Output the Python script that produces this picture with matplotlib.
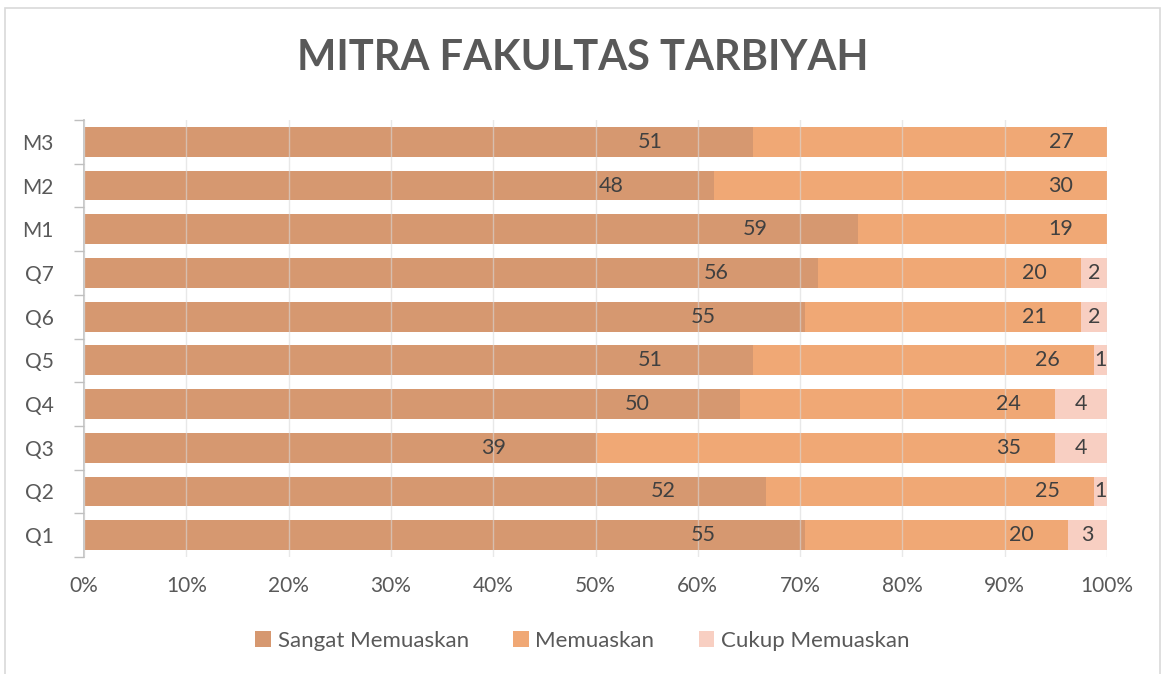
import matplotlib
matplotlib.use("Agg")
import matplotlib.pyplot as plt
from matplotlib.patches import Rectangle
import numpy as np

categories = ["Q1", "Q2", "Q3", "Q4", "Q5", "Q6", "Q7", "M1", "M2", "M3"]
sangat = [55, 52, 39, 50, 51, 55, 56, 59, 48, 51]
memuaskan = [20, 25, 35, 24, 26, 21, 20, 19, 30, 27]
cukup = [3, 1, 4, 4, 1, 2, 2, 0, 0, 0]
series_names = ["Sangat Memuaskan", "Memuaskan", "Cukup Memuaskan"]
colors = ["#D49368", "#F0A46E", "#F8CDBF"]
title = "MITRA FAKULTAS TARBIYAH"

plt.rcParams['font.family'] = ['Lato', 'DejaVu Sans']

fig = plt.figure(figsize=(11.65, 6.74), dpi=100)
fig.patches.append(Rectangle((5/1165, -0.01), 1155/1165, 1 - 8/674 + 0.01,
                             transform=fig.transFigure, fill=False,
                             edgecolor="#d9d9d9", lw=1.2))
ax = fig.add_axes([84/1165, 1 - 557/674, 1023/1165, (557 - 120)/674])

data = np.array([sangat, memuaskan, cukup], dtype=float)
totals = data.sum(axis=0)
frac = data / totals
y = np.arange(len(categories))
left = np.zeros(len(categories))
h = 0.68
for i in range(3):
    ax.barh(y, frac[i], left=left, height=h, color=colors[i], label=series_names[i],
            zorder=2, alpha=0.95)
    ends = left + frac[i]
    for j in range(len(categories)):
        v = data[i, j]
        if v == 0:
            continue
        if i == 0:
            xpos = ends[j] - 0.1
        elif i == 1:
            xpos = ends[j] - 0.045
        else:
            xpos = left[j] + frac[i, j] / 2
        ax.text(xpos, y[j], f"{int(v)}", ha="center", va="center",
                fontsize=15.5, color="#404040", zorder=4)
    left = ends

ax.set_xlim(0, 1)
ax.set_ylim(-0.5, len(categories) - 0.5)
ax.set_xticks(np.linspace(0, 1, 11))
ax.set_xticklabels([f"{int(round(t*100))}%" for t in np.linspace(0, 1, 11)])
ax.set_yticks(y)
ax.set_yticklabels(categories)
ax.set_yticks(np.arange(-0.5, len(categories)), minor=True)
ax.tick_params(axis="y", which="major", length=0, pad=22, labelsize=15, labelcolor="#595959")
ax.tick_params(axis="y", which="minor", length=7, color="#bfbfbf", width=1)
ax.tick_params(axis="x", length=0, pad=14, labelsize=15, labelcolor="#595959")
ax.grid(axis="x", color="#d9d9d9", lw=1, zorder=3, alpha=0.6)
ax.set_axisbelow(False)
for s in ["top", "right", "bottom"]:
    ax.spines[s].set_visible(False)
ax.spines["left"].set_color("#bfbfbf")
ax.spines["left"].set_linewidth(1.2)

fig.text(0.5, 1 - 58/674, title, ha="center", va="center", fontsize=30,
         fontweight="bold", color="#595959")

fig.legend(loc="center", bbox_to_anchor=(0.5, 1 - 641/674), ncol=3, frameon=False,
           fontsize=16, labelcolor="#595959", handlelength=0.7, handleheight=0.7,
           handletextpad=0.3, columnspacing=2.0)

fig.savefig("out.png", dpi=100)
